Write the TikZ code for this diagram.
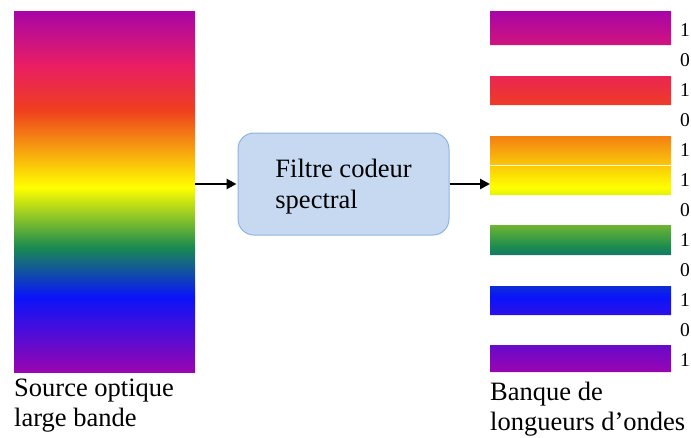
\documentclass[tikz,border=0pt]{standalone}
\usepackage{fontspec}
\setmainfont{Liberation Serif}
\usetikzlibrary{arrows.meta}
\definecolor{SpecViolet}{RGB}{154, 5, 176}
\definecolor{SpecBleu}{RGB}{10, 20, 250}
\definecolor{SpecVert}{RGB}{26, 138, 80}
\definecolor{SpecJaune}{RGB}{255, 255, 0}
\definecolor{SpecRouge}{RGB}{238, 63, 30}
\definecolor{SpecRose}{RGB}{233, 30, 99}
\definecolor{SpecPourpre}{RGB}{168, 5, 168}
\definecolor{BoxFill}{RGB}{198, 217, 240}
\definecolor{BoxLine}{RGB}{141, 179, 226}
\newcommand{\lw}{2.6pt}
\pgfdeclareverticalshading{spectre}{100bp}{%
  color(0bp)=(SpecViolet); color(25bp)=(SpecViolet); color(35.4bp)=(SpecBleu);
  color(42.3bp)=(SpecVert); color(50.6bp)=(SpecJaune); color(61.3bp)=(SpecRouge);
  color(67.5bp)=(SpecRose); color(75bp)=(SpecPourpre); color(100bp)=(SpecPourpre)}

\begin{document}
\begin{tikzpicture}[x=1pt, y=-1pt,
  every node/.append style={inner sep=0pt},
  fleche/.style={line width=\lw, -{Triangle[length=10pt, width=10pt]}, shorten >=1pt},
  bloc/.style={draw=BoxLine, line width=1pt, fill=BoxFill, rounded corners=16pt,
    minimum width=211pt, minimum height=102pt, align=left,
    font=\fontsize{26.5}{31}\selectfont},
  legende/.style={anchor=north west, align=left, font=\fontsize{26.5}{30}\selectfont},
  bit/.style={anchor=base west, font=\fontsize{19.5}{20}\selectfont}]
  \useasboundingbox (0,0) rectangle (691,437);
  \node[shade, shading=spectre, minimum width=181pt, minimum height=361pt,
    anchor=north west] (src) at (14,11) {};
  \node[bloc] (filtre) at (343.5,184) {\rule{0pt}{24pt}Filtre codeur\\spectral};
  \coordinate (banque) at (491,184);
  \begin{scope}
    \clip (490,11) rectangle (671,45) (490,76) rectangle (671,105)
          (490,136) rectangle (671,165) (490,166) rectangle (671,195)
          (490,225) rectangle (671,255) (490,286) rectangle (671,315)
          (490,345) rectangle (671,372);
    \shade[shading=spectre] (490,11) rectangle (671,372);
  \end{scope}
  \foreach \b [count=\i from 0] in {1,0,1,0,1,1,0,1,0,1,0,1}
    \node[bit] (bit\i) at (680,36.5+30*\i) {\b};
  \node[legende] (srclab) at (14,379) {Source optique\\large bande};
  \node[legende] (banquelab) at (490,382) {Banque de\\longueurs d’ondes};
  \draw[fleche] (filtre.west -| src.east) -- (filtre.west);
  \draw[fleche] (filtre.east) -- (banque);
\end{tikzpicture}
\end{document}
